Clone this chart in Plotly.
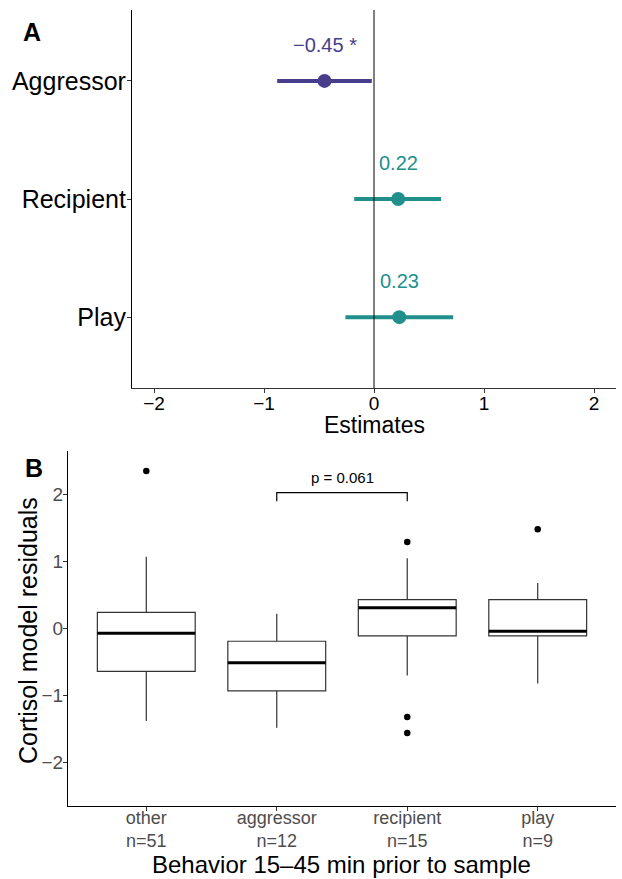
import plotly.graph_objects as go

# ---------------- Panel A data ----------------
terms = ["Aggressor", "Recipient", "Play"]
estimates = [-0.45, 0.22, 0.23]
ci_low = [-0.88, -0.18, -0.26]
ci_high = [-0.02, 0.61, 0.72]
est_labels = ["\u22120.45 *", "0.22", "0.23"]
term_colors = ["#483D8B", "#21908C", "#21908C"]
a_ticks = [-2, -1, 0, 1, 2]

# ---------------- Panel B data ----------------
groups = ["other", "aggressor", "recipient", "play"]
group_n = [51, 12, 15, 9]
q1 = [-0.64, -0.93, -0.11, -0.11]
median = [-0.07, -0.51, 0.31, -0.04]
q3 = [0.24, -0.19, 0.43, 0.43]
lower_whisker = [-1.38, -1.48, -0.70, -0.82]
upper_whisker = [1.07, 0.22, 1.05, 0.68]
outlier_group = ["other", "recipient", "recipient", "recipient", "play"]
outlier_value = [2.35, 1.29, -1.32, -1.56, 1.48]
compare_groups = ["aggressor", "recipient"]
bracket_top = 2.03
bracket_bottom = 1.90
p_label = "p = 0.061"
b_ticks = [-2, -1, 0, 1, 2]

W, H = 622, 879
FONT = "Liberation Sans, Arial, Helvetica, sans-serif"

fig = go.Figure()

# Panel A: estimates with CIs
for t, e, lo, hi, c in zip(terms, estimates, ci_low, ci_high, term_colors):
    fig.add_trace(go.Scatter(
        x=[e], y=[t], mode="markers",
        marker=dict(size=14, color=c),
        error_x=dict(type="data", symmetric=False, array=[hi - e], arrayminus=[e - lo],
                     color=c, thickness=4, width=0),
        xaxis="x", yaxis="y", showlegend=False, hoverinfo="skip"))

for t, e, lab, c in zip(terms, estimates, est_labels, term_colors):
    fig.add_annotation(x=e, y=t, xref="x", yref="y", text=lab, showarrow=False,
                       xanchor="center", yanchor="middle",
                       yshift=36, font=dict(size=20, color=c, family=FONT))

# zero reference line
fig.add_shape(type="line", xref="x", yref="y domain", x0=0, x1=0, y0=0, y1=1,
              line=dict(color="black", width=1))

# Panel B: boxplots
pos = {g: i + 1 for i, g in enumerate(groups)}
half = 0.375
for g, a, m, b, lw, uw in zip(groups, q1, median, q3, lower_whisker, upper_whisker):
    fig.add_trace(go.Box(
        x=[pos[g]], q1=[a], median=[m], q3=[b], lowerfence=[lw], upperfence=[uw],
        width=2 * half, whiskerwidth=0, fillcolor="white",
        line=dict(color="#333333", width=1.2), boxpoints=False,
        xaxis="x2", yaxis="y2", showlegend=False, hoverinfo="skip"))

# thick medians
mx, my = [], []
for g, m in zip(groups, median):
    mx += [pos[g] - half, pos[g] + half, None]
    my += [m, m, None]
fig.add_trace(go.Scatter(x=mx, y=my, mode="lines", line=dict(color="black", width=3),
                         xaxis="x2", yaxis="y2", showlegend=False, hoverinfo="skip"))

# outliers
fig.add_trace(go.Scatter(x=[pos[g] for g in outlier_group], y=outlier_value, mode="markers",
                         marker=dict(size=6.5, color="black"),
                         xaxis="x2", yaxis="y2", showlegend=False, hoverinfo="skip"))

# significance bracket
g1, g2 = pos[compare_groups[0]], pos[compare_groups[1]]
fig.add_trace(go.Scatter(x=[g1, g1, g2, g2], y=[bracket_bottom, bracket_top, bracket_top, bracket_bottom],
                         mode="lines", line=dict(color="black", width=1.2),
                         xaxis="x2", yaxis="y2", showlegend=False, hoverinfo="skip"))
fig.add_annotation(x=(g1 + g2) / 2, y=bracket_top, xref="x2", yref="y2", text=p_label,
                   showarrow=False, xanchor="center", yanchor="middle",
                   yshift=15, font=dict(size=15, color="black", family=FONT))

# axes domains (pixel based)
def xd(a, b):
    return [a / W, b / W]

def yd(top, bottom):
    return [1 - bottom / H, 1 - top / H]

axis_common = dict(showgrid=False, zeroline=False, showline=True, ticks="outside",
                   ticklen=4, tickwidth=1, tickcolor="#333333", fixedrange=True)

fig.update_layout(
    width=W, height=H, margin=dict(l=0, r=0, t=0, b=0),
    paper_bgcolor="white", plot_bgcolor="white",
    font=dict(family=FONT, color="black"),
    xaxis=dict(domain=xd(132, 616), anchor="y", range=[-2.2, 2.2], tickvals=a_ticks,
               linecolor="#333333", linewidth=1.2, ticklabelstandoff=-6,
               tickfont=dict(size=19, color="black"), **axis_common),
    yaxis=dict(domain=yd(10, 388), anchor="x", type="category",
               categoryorder="array", categoryarray=terms[::-1], range=[-0.6, 2.6],
               linecolor="black", linewidth=1.2, ticklabelstandoff=-4,
               tickfont=dict(size=25, color="black"), **axis_common),
    xaxis2=dict(domain=xd(68, 616), anchor="y2", range=[0.4, 4.6],
                tickvals=[pos[g] for g in groups],
                ticktext=[f"{g}<br>n={n}" for g, n in zip(groups, group_n)],
                linecolor="black", linewidth=1.2, ticklabelstandoff=-9,
                tickfont=dict(size=18, color="#4D4D4D"), **axis_common),
    yaxis2=dict(domain=yd(451, 806), anchor="x2", range=[-2.65, 2.65], tickvals=b_ticks,
                linecolor="black", linewidth=1.2, ticklabelstandoff=-4,
                tickfont=dict(size=19, color="#4D4D4D"), **axis_common),
)

# titles and panel letters
def label(x, y, text, size, angle=0):
    fig.add_annotation(x=x / W, y=1 - y / H, xref="paper", yref="paper", text=text,
                       textangle=angle, showarrow=False, xanchor="center", yanchor="middle",
                       font=dict(size=size, family=FONT, color="black"))

label((132 + 616) / 2, 425, "Estimates", 23)
label((68 + 616) / 2, 864, "Behavior 15\u201345 min prior to sample", 24)
label(28, 631, "Cortisol model residuals", 25, -90)
label(32, 32, "<b>A</b>", 25)
label(34, 468, "<b>B</b>", 25)

fig.write_html("out.html", config={"displayModeBar": False},
               post_script="document.body.style.margin='0';")
